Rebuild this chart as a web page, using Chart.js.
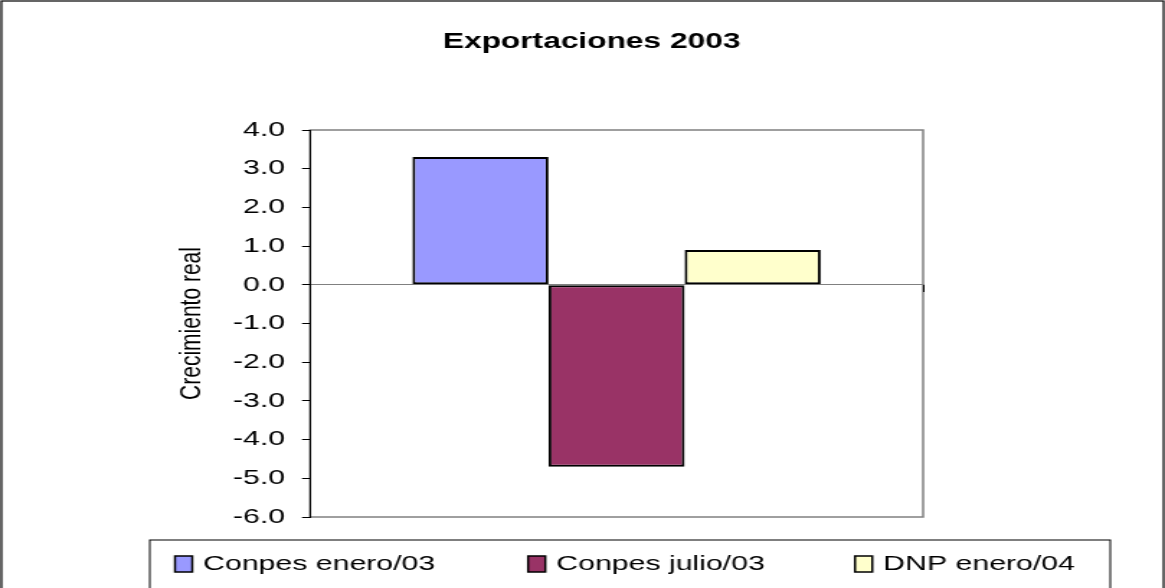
<!DOCTYPE html>
<html><head><meta charset="utf-8">
<script src="https://cdn.jsdelivr.net/npm/chart.js@4"></script>
<style>
html,body{margin:0;padding:0;background:#fff;overflow:hidden;}
</style></head>
<body>
<canvas id="c" width="809" height="588" style="display:block;width:1165px;height:588px;"></canvas>
<script>
const chartTitle = 'Exportaciones 2003';
const yAxisTitle = 'Crecimiento real';
const categories = [''];
const seriesNames = ['Conpes enero/03', 'Conpes julio/03', 'DNP enero/04'];
const seriesValues = [3.3, -4.7, 0.9];
const seriesColors = ['#9999FF', '#993366', '#FFFFCC'];
const yTickValues = [-6, -5, -4, -3, -2, -1, 0, 1, 2, 3, 4];

const FAMILY = '"Liberation Sans", Arial, sans-serif';
const baseFont = {family: FAMILY, size: 21};

const framePlugin = {
  id: 'frame',
  beforeDraw(chart) {
    const {ctx, chartArea: a} = chart;
    ctx.save();
    ctx.strokeStyle = '#000';
    ctx.lineWidth = 1.2;
    ctx.strokeRect(1, 1, chart.width - 2, chart.height + 20);
    ctx.strokeStyle = '#808080';
    ctx.lineWidth = 1.5;
    ctx.strokeRect(a.left, a.top, a.right - a.left, a.bottom - a.top);
    ctx.restore();
  }
};

const boxLegendPlugin = {
  id: 'boxLegend',
  afterDraw(chart, args, o) {
    const {ctx} = chart;
    ctx.save();
    ctx.strokeStyle = '#000';
    ctx.lineWidth = 1;
    ctx.strokeRect(o.left, o.top, o.right - o.left, chart.height);
    ctx.font = `${o.fontSize}px ${FAMILY}`;
    ctx.textBaseline = 'middle';
    ctx.textAlign = 'left';
    chart.data.datasets.forEach((ds, i) => {
      const x = o.itemX[i];
      ctx.fillStyle = ds.backgroundColor;
      ctx.fillRect(x, o.boxTop, o.boxW, o.boxH);
      ctx.lineWidth = 1.5;
      ctx.strokeStyle = '#000';
      ctx.strokeRect(x, o.boxTop, o.boxW, o.boxH);
      ctx.fillStyle = '#000';
      ctx.fillText(ds.label, x + o.boxW + o.gap, o.boxTop + o.boxH / 2);
    });
    ctx.restore();
  }
};

new Chart(document.getElementById('c'), {
  type: 'bar',
  data: {
    labels: categories,
    datasets: seriesNames.map((name, i) => ({
      label: name,
      data: [seriesValues[i]],
      backgroundColor: seriesColors[i],
      borderColor: '#000',
      borderWidth: 2,
      borderSkipped: false,
      barPercentage: 1,
      categoryPercentage: 0.666
    }))
  },
  options: {
    responsive: false,
    devicePixelRatio: 1,
    animation: false,
    events: [],
    layout: {padding: {left: 110, right: 97.4, top: 0, bottom: 71}},
    plugins: {
      legend: {display: false},
      tooltip: {enabled: false},
      title: {
        display: true, text: chartTitle, color: '#000',
        font: {family: FAMILY, size: 22, weight: 'bold'},
        padding: {top: 28.8, bottom: 74.8}
      },
      boxLegend: {
        left: 104, right: 771, top: 540,
        itemX: [121.5, 366.7, 593.75],
        boxW: 12, boxH: 16, boxTop: 556, gap: 7.6, fontSize: 21
      }
    },
    scales: {
      x: {
        type: 'category',
        position: {y: 0},
        offset: true,
        grid: {display: true, drawOnChartArea: false, offset: true, tickLength: 7, color: '#000', lineWidth: 1},
        border: {display: true, color: '#808080', width: 1},
        ticks: {display: false},
        afterFit: s => { s.height = 0; }
      },
      y: {
        min: Math.min(...yTickValues),
        max: Math.max(...yTickValues),
        afterBuildTicks: s => { s.ticks = yTickValues.map(v => ({value: v})); },
        grid: {drawOnChartArea: false, tickLength: 5.6, color: '#000', lineWidth: 1},
        border: {display: true, color: '#000', width: 1},
        ticks: {color: '#000', font: baseFont, padding: 11.7, callback: v => Number(v).toFixed(1)},
        title: {display: true, text: yAxisTitle, color: '#000', font: baseFont, padding: {top: 10.7, bottom: 0}},
        afterFit: s => { s.width = 105.3; }
      },
      yRight: {
        type: 'linear',
        position: 'right',
        display: true,
        grid: {display: false},
        border: {display: false},
        ticks: {display: false},
        afterFit: s => { s.width = 70.6; }
      }
    }
  },
  plugins: [framePlugin, boxLegendPlugin]
});
</script>
</body></html>
